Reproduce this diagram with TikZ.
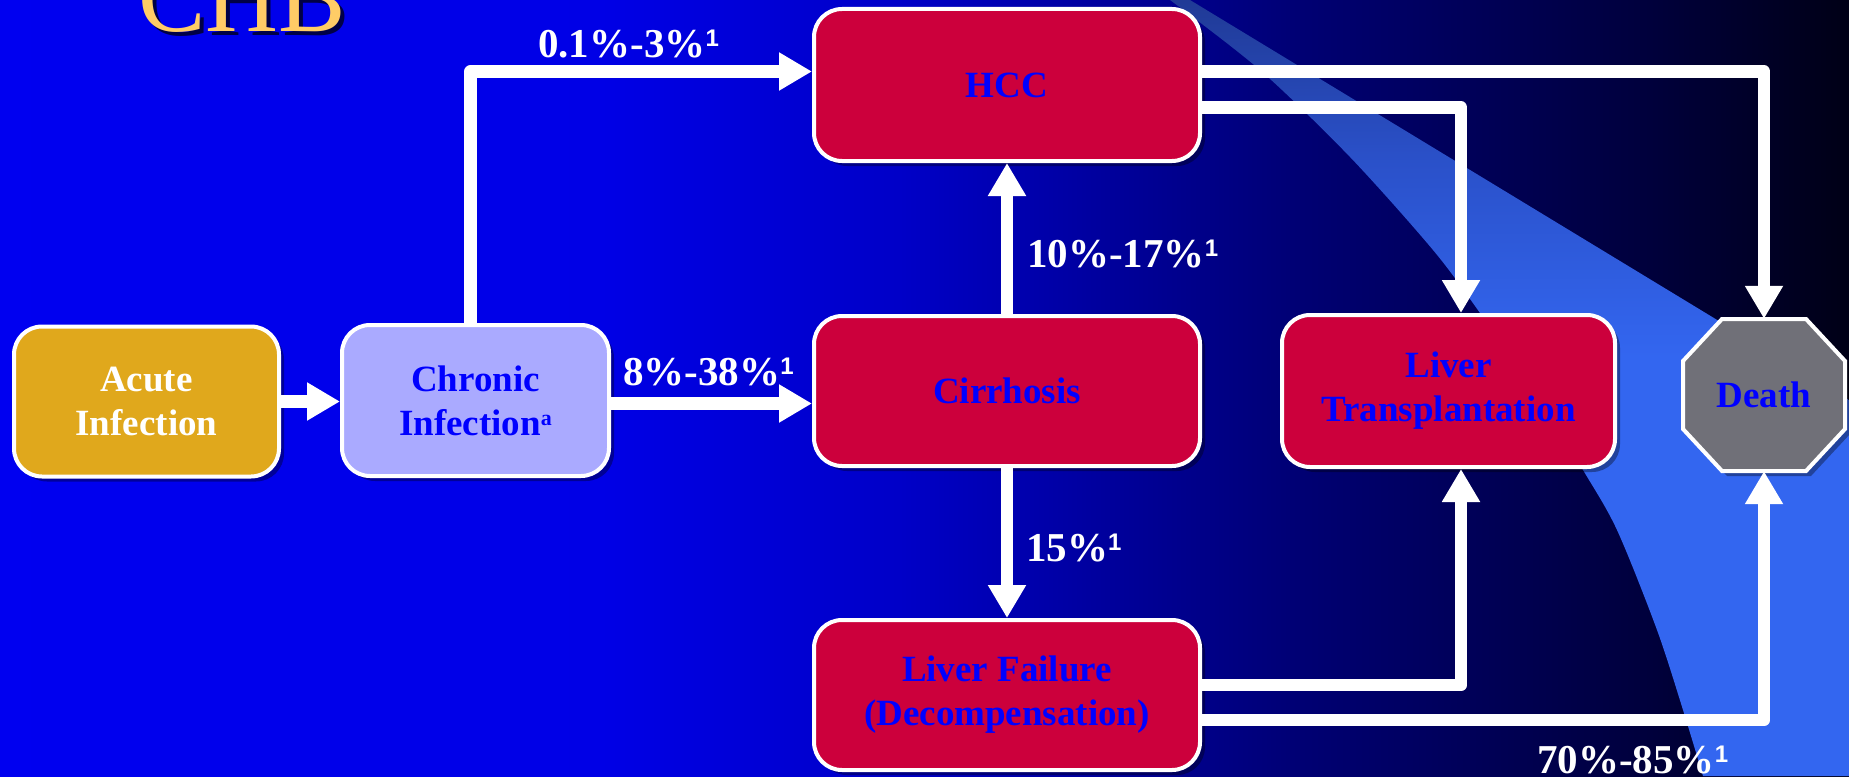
\documentclass[tikz,border=0pt]{standalone}
\usepackage{fontspec}
\setmainfont{Liberation Serif}
\newfontfamily\supfont{Liberation Sans}
\usetikzlibrary{arrows.meta,shadows,calc}
\definecolor{bgA}{RGB}{0,0,240}
\definecolor{bgB}{RGB}{0,0,230}
\definecolor{bgC}{RGB}{0,0,200}
\definecolor{bgD}{RGB}{0,0,115}
\definecolor{bgE}{RGB}{0,0,60}
\definecolor{bgF}{RGB}{0,0,22}
\definecolor{bandT}{RGB}{32,58,150}
\definecolor{bandM}{RGB}{42,80,200}
\definecolor{bandB}{RGB}{51,102,240}
\definecolor{acutefill}{RGB}{224,168,28}
\definecolor{chronfill}{RGB}{170,170,255}
\definecolor{redfill}{RGB}{204,0,60}
\definecolor{deathfill}{RGB}{112,112,120}
\definecolor{txtblue}{RGB}{0,0,255}
\definecolor{gold}{RGB}{255,204,102}
\pgfdeclarehorizontalshading{bgshade}{100bp}{color(0bp)=(bgA); color(25bp)=(bgA); color(41.2bp)=(bgB); color(49.3bp)=(bgC); color(60.2bp)=(bgD); color(69.6bp)=(bgE); color(75bp)=(bgF); color(100bp)=(bgF)}
\pgfdeclareverticalshading{bandshade}{100bp}{color(0bp)=(bandB); color(25bp)=(bandB); color(52bp)=(bandB); color(65bp)=(bandM); color(75bp)=(bandT); color(100bp)=(bandT)}
\newcommand{\supone}{\raisebox{10.5pt}{\supfont\bfseries\fontsize{24}{24}\selectfont 1}}
\newcommand{\supa}{\raisebox{10pt}{\bfseries\fontsize{22}{22}\selectfont a}}
\begin{document}
\begin{tikzpicture}[x=1pt,y=-1pt,
  box/.style={draw=white, line width=4pt, rounded corners=28pt, inner sep=0pt,
    align=center, text=txtblue, font=\bfseries\fontsize{37}{44}\selectfont,
    drop shadow={shadow xshift=5pt, shadow yshift=-5pt, opacity=0.35, fill=black}},
  lbl/.style={inner sep=0pt, anchor=base west, text=white, font=\bfseries\fontsize{41}{41}\selectfont},
  arr/.style={draw=white, line width=12.5pt, line join=round,
    -{Triangle[length=33pt,width=36pt]}}]
\useasboundingbox (0,0) rectangle (1849,776);
% background
\shade[shading=bgshade] (0,0) rectangle (1849,776);
\shade[shading=bandshade]
  plot[smooth] coordinates {(1170,0) (1260,70) (1350,157) (1433,250) (1480,313) (1540,400) (1583,470) (1617,530) (1657,630) (1683,710) (1703,776)}
  -- (1849,776) -- (1849,400) -- (1190,0) -- cycle;
% title
\node[anchor=base west, inner sep=0pt, text=black, opacity=0.7, font=\fontsize{101}{101}\selectfont] (titleshadow) at (142,36) {CHB};
\node[anchor=base west, inner sep=0pt, text=gold, font=\fontsize{101}{101}\selectfont] (title) at (138,32) {CHB};
% boxes
\node[box, fill=acutefill, text=white, minimum width=265pt, minimum height=150pt] (acute) at (146.5,401.5) {Acute\\Infection};
\node[box, fill=chronfill, minimum width=267pt, minimum height=151pt] (chronic) at (475.5,400.5) {Chronic\\Infection\supa};
\node[box, fill=redfill, minimum width=386pt, minimum height=152pt] (hcc) at (1007,85) {HCC};
\node[box, fill=redfill, minimum width=386pt, minimum height=150pt] (cirr) at (1007,391) {Cirrhosis};
\node[box, fill=redfill, minimum width=386pt, minimum height=150pt] (lf) at (1007,695) {Liver Failure\\(Decompensation)};
\node[box, fill=redfill, minimum width=333pt, minimum height=152pt] (lt) at (1448.5,391) {Liver\\Transplantation};
% death octagon
\coordinate (dc) at (1764,395);
\fill[black, opacity=0.35] ($(dc)+(-37,-71)$) -- ($(dc)+(47,-71)$) -- ($(dc)+(86,-29)$) -- ($(dc)+(86,39)$) -- ($(dc)+(47,81)$) -- ($(dc)+(-37,81)$) -- ($(dc)+(-76,39)$) -- ($(dc)+(-76,-29)$) -- cycle;
\draw[draw=white, line width=4pt, fill=deathfill, line join=miter] ($(dc)+(-42,-76)$) -- ($(dc)+(42,-76)$) -- ($(dc)+(81,-34)$) -- ($(dc)+(81,34)$) -- ($(dc)+(42,76)$) -- ($(dc)+(-42,76)$) -- ($(dc)+(-81,34)$) -- ($(dc)+(-81,-34)$) -- cycle;
\node[inner sep=0pt, minimum width=162pt, minimum height=152pt, text=txtblue, font=\bfseries\fontsize{37}{44}\selectfont] (death) at (dc) {Death};
% connectors
\draw[arr] (acute.east) -- (acute.east -| chronic.west);
\draw[arr] ([yshift=-3pt]chronic.east) -- ([yshift=-3pt]chronic.east -| cirr.west);
\draw[arr] ([xshift=-5pt]chronic.north) |- ([yshift=13.5pt]hcc.west);
\draw[arr] (cirr.north) -- (hcc.south);
\draw[arr] (cirr.south) -- (lf.north);
\draw[arr] ([yshift=-22.5pt]hcc.east) -| ([xshift=12.5pt]lt.north);
\draw[arr] ([yshift=13.5pt]hcc.east) -| (death.north);
\draw[arr] ([yshift=10pt]lf.east) -| ([xshift=12.5pt]lt.south);
\draw[arr] ([yshift=-25pt]lf.east) -| (death.south);
% labels
\node[lbl] (l1) at (538,57) {0.1\%-3\%\supone};
\node[lbl] (l2) at (623,385) {8\%-38\%\supone};
\node[lbl] (l3) at (1027,267) {10\%-17\%\supone};
\node[lbl] (l4) at (1026,561) {15\%\supone};
\node[lbl] (l5) at (1537,773) {70\%-85\%\supone};
\end{tikzpicture}
\end{document}
